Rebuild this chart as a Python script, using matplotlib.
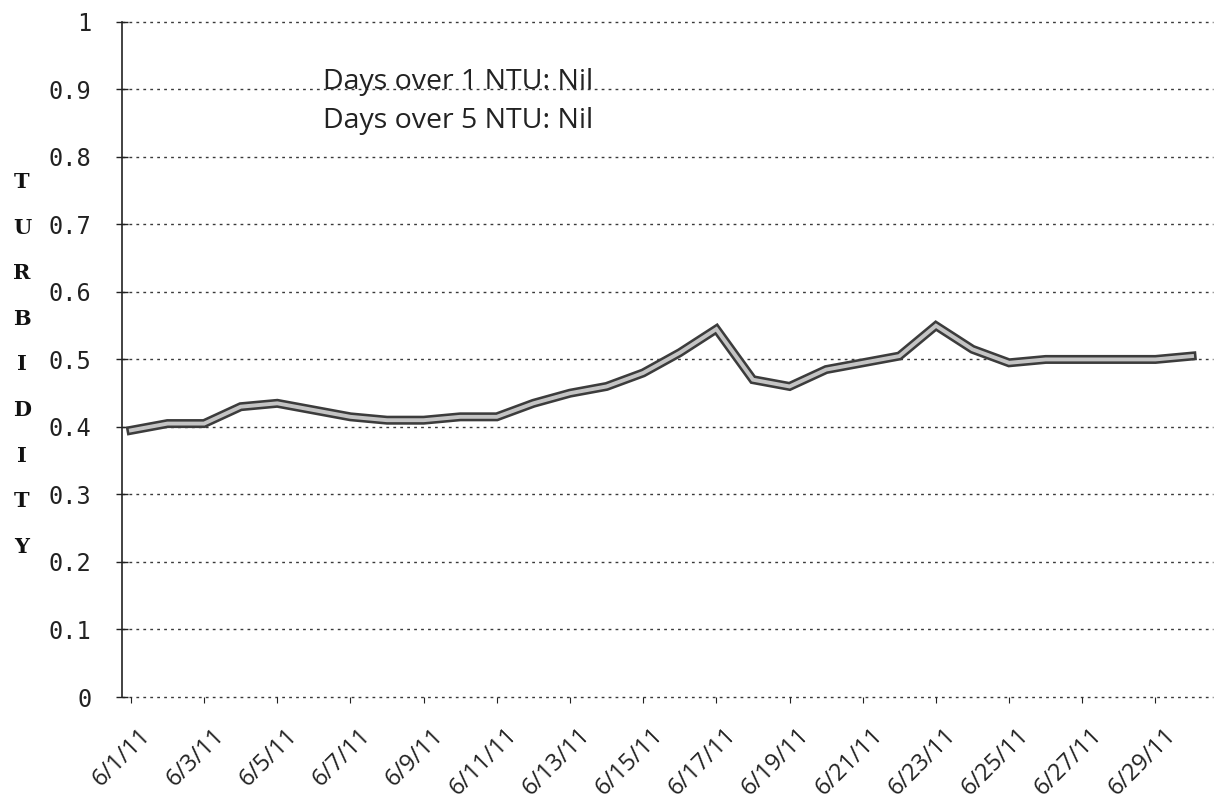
import numpy as np
import matplotlib
matplotlib.use("Agg")
import matplotlib.pyplot as plt
import matplotlib.transforms as mtransforms

# day of June 2011 and turbidity (NTU)
days = list(range(1, 31))
turbidity = [0.395, 0.405, 0.405, 0.43, 0.435, 0.425, 0.415, 0.41, 0.41, 0.415,
             0.415, 0.435, 0.45, 0.46, 0.48, 0.51, 0.545, 0.47, 0.46, 0.485,
             0.495, 0.505, 0.55, 0.515, 0.495, 0.50, 0.50, 0.50, 0.50, 0.505]

tick_days = list(range(1, 30, 2))
tick_labels = ['6/%d/11' % d for d in tick_days]
y_ticks = [0, 0.1, 0.2, 0.3, 0.4, 0.5, 0.6, 0.7, 0.8, 0.9, 1]
y_labels = ['0', '0.1', '0.2', '0.3', '0.4', '0.5', '0.6', '0.7', '0.8', '0.9', '1']
notes = ['Days over 1 NTU: Nil', 'Days over 5 NTU: Nil']
axis_title = 'TURBIDITY'

fig = plt.figure(figsize=(12.19, 8.10), dpi=100)
ax = fig.add_axes([0.100, 0.1395, 0.895, 0.8335])

# gridlines (dotted, scanned look)
for v in y_ticks:
    ax.axhline(v, color='#3a3a3a', lw=1.0, ls=(0, (2, 3)), zorder=1, clip_on=False)

# double-line look of the scanned series
ax.plot(days, turbidity, color='#3c3c3c', lw=6.5, solid_joinstyle='miter', zorder=3)
ax.plot(days, turbidity, color='#c4c4c4', lw=2.8, solid_joinstyle='miter', zorder=4)

ax.set_xlim(0.754, 30.57)
ax.set_ylim(0, 1)
ax.set_yticks(y_ticks)
ax.set_yticklabels(y_labels, fontsize=17, family='DejaVu Sans Mono', color='#111')
ax.set_xticks(tick_days)
ax.set_xticklabels(tick_labels, fontsize=17, family='Open Sans', color='#111')

for s in ['top', 'right', 'bottom']:
    ax.spines[s].set_visible(False)
ax.spines['left'].set_linestyle((0, (4, 1)))
ax.spines['left'].set_color('#222')
ax.spines['left'].set_linewidth(1.2)

ax.tick_params(axis='y', direction='inout', length=8, width=1, pad=18, colors='#222')
ax.tick_params(axis='x', direction='out', length=4, width=0.8, pad=15, colors='#222')

offset = mtransforms.ScaledTranslation(0.08, 0, fig.dpi_scale_trans)
for lab in ax.get_xticklabels():
    lab.set_rotation(45)
    lab.set_ha('right')
    lab.set_va('top')
    lab.set_rotation_mode('anchor')
    lab.set_transform(lab.get_transform() + offset)

# annotation text
ax.text(0.184, 0.901, notes[0], transform=ax.transAxes, fontsize=20.5,
        family='Open Sans', color='#222', va='baseline', ha='left')
ax.text(0.184, 0.843, notes[1], transform=ax.transAxes, fontsize=20.5,
        family='Open Sans', color='#222', va='baseline', ha='left')

# vertical stacked axis title
ys = np.linspace(0.775, 0.325, len(axis_title))
for ch, yy in zip(axis_title, ys):
    fig.text(0.018, yy, ch, fontsize=15, family='DejaVu Serif', weight='bold',
             color='#111', ha='center', va='center')

fig.savefig('out.png', dpi=100, facecolor='white')
